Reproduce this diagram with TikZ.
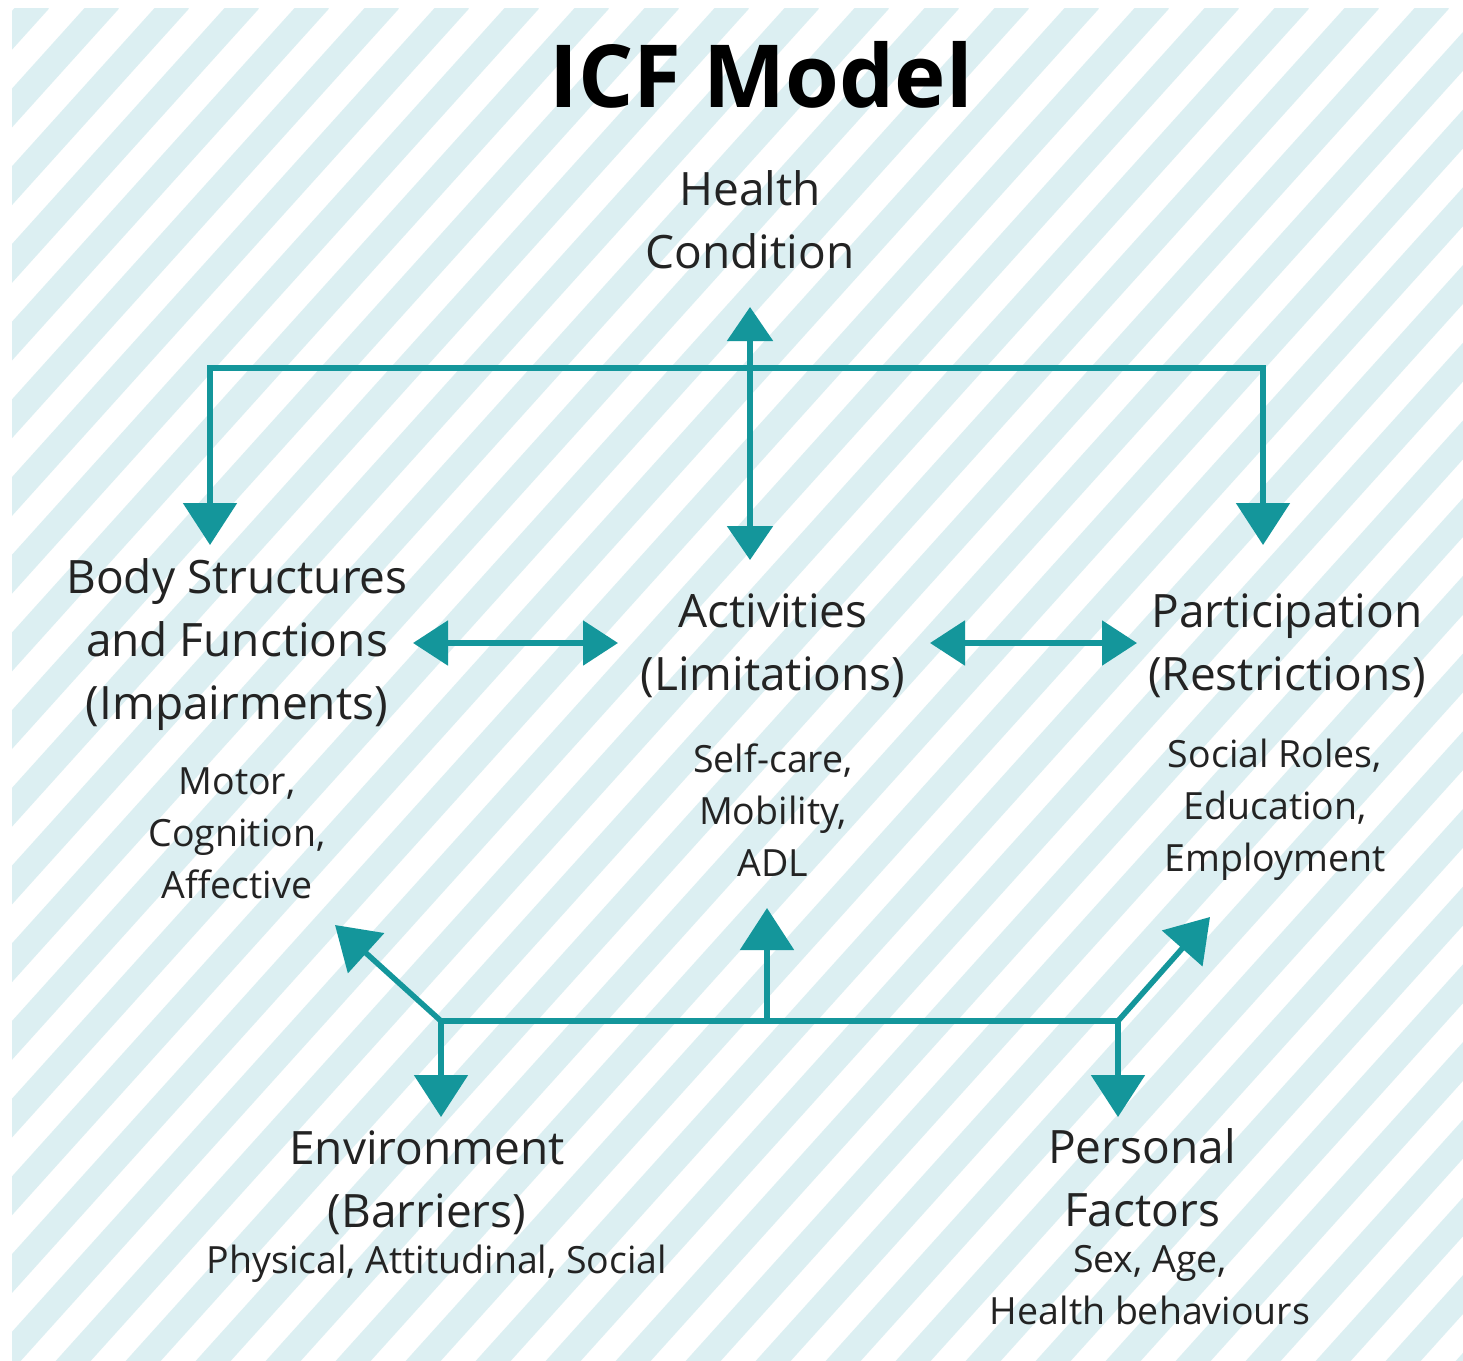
\documentclass[tikz,border=0pt]{standalone}
\usepackage{fontspec}
\setmainfont{Open Sans}
\usetikzlibrary{arrows.meta}
\definecolor{teal1}{RGB}{20,150,155}
\definecolor{stripe}{RGB}{220,239,242}
\definecolor{txt}{RGB}{35,35,35}
\tikzset{
  conn/.style={draw=teal1, line width=5.5pt},
  bigtip/.style={-{Triangle[width=53pt,length=42pt]}},
  bigboth/.style={{Triangle[width=53pt,length=42pt]}-{Triangle[width=53pt,length=42pt]}},
  smallboth/.style={{Triangle[width=45pt,length=34pt]}-{Triangle[width=45pt,length=34pt]}},
  hboth/.style={{Triangle[width=44pt,length=35pt]}-{Triangle[width=44pt,length=35pt]}},
  bigtxt/.style={align=center, inner sep=0pt, text=txt, font=\fontsize{46}{63}\selectfont},
  smalltxt/.style={align=center, inner sep=0pt, text=txt, font=\fontsize{37.5}{52}\selectfont},
  titletxt/.style={inner sep=0pt, text=black, font=\fontsize{87}{100}\selectfont\bfseries},
}
\begin{document}
\begin{tikzpicture}[x=1pt,y=-1pt]
\useasboundingbox (0,0) rectangle (1463,1360);
\fill[white] (0,0) rectangle (1463,1360);
\begin{scope}
  \clip (12,8) rectangle (1463,1360);
  \fill[white] (12,8) rectangle (1463,1360);
  \foreach \k in {-20,...,22} {
    \draw[stripe, line width=26pt] ({\k*70+20},1420) -- ({\k*70+20+1420/1.11},0);
  }
\end{scope}

% texts
\node[titletxt, anchor=base] (title) at (761,107) {ICF Model};
\node[bigtxt] (hc) at (750,220) {Health\\Condition};
\node[bigtxt] (bsf) at (237,645) {Body Structures\\and Functions\\(Impairments)};
\node[smalltxt] (bsfx) at (237,833) {Motor,\\Cognition,\\Affective};
\node[bigtxt] (act) at (773,646) {Activities\\(Limitations)};
\node[smalltxt] (actx) at (773,810) {Self-care,\\Mobility,\\ADL};
\node[bigtxt] (par) at (1287,646) {Participation\\(Restrictions)};
\node[smalltxt] (parx) at (1275,810) {Social Roles,\\Education,\\Employment};
\node[bigtxt] (env) at (427,1183) {Environment\\(Barriers)};
\node[smalltxt, anchor=base] (envx) at (437,1273) {Physical, Attitudinal, Social};
\node[bigtxt] (pf) at (1142,1178) {Personal\\Factors};
\node[smalltxt] (pfx) at (1150,1285) {Sex, Age,\\Health behaviours};

% connector coordinates
\coordinate (tl) at (210,368);
\coordinate (tr) at (1263,368);
\coordinate (bsfTip) at (210,545);
\coordinate (parTip) at (1263,545);
\coordinate (hcTip) at (750,307);
\coordinate (actTip) at (750,560);
\coordinate (h1a) at (413,643);
\coordinate (h1b) at (618,643);
\coordinate (h2a) at (930,643);
\coordinate (h2b) at (1137,643);
\coordinate (j1) at (441,1021);
\coordinate (j2) at (1118,1021);
\coordinate (jm) at (767,1021);
\coordinate (bsfTip2) at (335,925);
\coordinate (envTip) at (441,1117);
\coordinate (actTip2) at (767,908);
\coordinate (pfTip) at (1118,1117);
\coordinate (parTip2) at (1210,917);

% connectors
\draw[conn, bigboth] (bsfTip) -- (tl) -- (tr) -- (parTip);
\draw[conn, smallboth] (hcTip) -- (actTip);
\draw[conn, hboth] (h1a) -- (h1b);
\draw[conn, hboth] (h2a) -- (h2b);
\draw[conn] (j1) -- (j2);
\draw[conn, bigtip] (j1) -- (bsfTip2);
\draw[conn, bigtip] (j1) -- (envTip);
\draw[conn, bigtip] (jm) -- (actTip2);
\draw[conn, bigtip] (j2) -- (pfTip);
\draw[conn, bigtip] (j2) -- (parTip2);
\end{tikzpicture}
\end{document}
